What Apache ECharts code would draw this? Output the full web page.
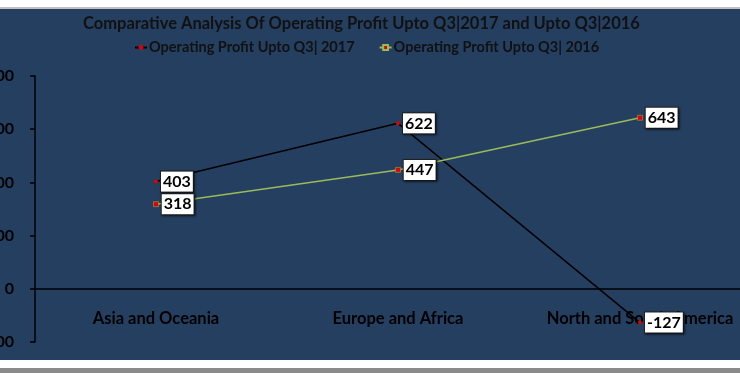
<!DOCTYPE html>
<html><head><meta charset="utf-8">
<script src="https://cdn.jsdelivr.net/npm/echarts@6/dist/echarts.min.js"></script>
<style>
html,body{margin:0;padding:0;width:740px;height:373px;overflow:hidden;background:#fff;position:relative}
#topline{position:absolute;left:0;top:7px;width:740px;height:2px;background:#c0c0c0}
#botline{position:absolute;left:0;top:368px;width:740px;height:5px;background:#8a8a8a}
#c{position:absolute;left:-40px;top:9px;width:830px;height:351px}
</style></head>
<body>
<div id="topline"></div>
<div id="c"></div>
<div id="botline"></div>
<script>
const titleText = 'Comparative Analysis Of Operating Profit Upto Q3|2017 and Upto Q3|2016';
const categories = ['Asia and Oceania', 'Europe and Africa', 'North and South America'];
const seriesNames = ['Operating Profit Upto Q3| 2017', 'Operating Profit Upto Q3| 2016'];
const values2017 = [403, 622, -127];
const values2016 = [318, 447, 643];
const yTicks = {min: -200, max: 800, interval: 200};

const FONT = 'Lato, "Open Sans", sans-serif';
const chart = echarts.init(document.getElementById('c'));
const labelStyle = {
  show: true, position: 'right', distance: 3, formatter: '{c}',
  backgroundColor: '#fff', borderColor: '#222', borderWidth: 1,
  padding: [3, 2, 1, 2], color: '#000', fontWeight: 'bold', fontSize: 16, fontFamily: FONT,
  shadowBlur: 2, shadowColor: 'rgba(0,0,0,0.5)', shadowOffsetX: 1, shadowOffsetY: 1
};
chart.setOption({
  backgroundColor: '#243F60',
  animation: false,
  title: {
    text: titleText, left: 123, top: 6, padding: 0,
    textStyle: {color: '#111', fontWeight: 'bold', fontSize: 16.5, fontFamily: FONT}
  },
  legend: {
    data: seriesNames, left: 174, top: 31, padding: 0, itemGap: 24, itemWidth: 12, itemHeight: 6,
    textStyle: {color: '#111', fontWeight: 'bold', fontSize: 14.5, fontFamily: FONT, padding: [0,0,0,-3]}
  },
  grid: {left: 75, right: 29, top: 67, bottom: 18, outerBoundsMode: 'none', containLabel: false},
  xAxis: {
    type: 'category', data: categories, boundaryGap: true,
    axisLine: {lineStyle: {color: '#000', width: 1.5}},
    axisTick: {show: false},
    axisLabel: {interval: 0, hideOverlap: false, color: '#000', fontWeight: 'bold', fontSize: 16.5, fontFamily: FONT, margin: -32}
  },
  yAxis: {
    type: 'value', min: yTicks.min, max: yTicks.max, interval: yTicks.interval,
    axisLine: {show: true, lineStyle: {color: '#000', width: 1.5}},
    axisTick: {show: true, length: 5, lineStyle: {color: '#000', width: 1.5}},
    splitLine: {show: false},
    axisLabel: {color: '#000', fontWeight: 'bold', fontSize: 16, fontFamily: FONT, margin: 21}
  },
  series: [
    {
      name: seriesNames[0], type: 'line', data: values2017,
      lineStyle: {color: '#000', width: 1.5},
      itemStyle: {color: '#e00000'}, symbol: 'circle', symbolSize: 4,
      label: labelStyle
    },
    {
      name: seriesNames[1], type: 'line', data: values2016,
      lineStyle: {color: '#9BBB59', width: 1.5},
      itemStyle: {color: '#e00000', borderColor: '#9BBB59', borderWidth: 0.5}, symbol: 'rect', symbolSize: 5,
      label: labelStyle
    }
  ]
});
</script>
</body></html>
